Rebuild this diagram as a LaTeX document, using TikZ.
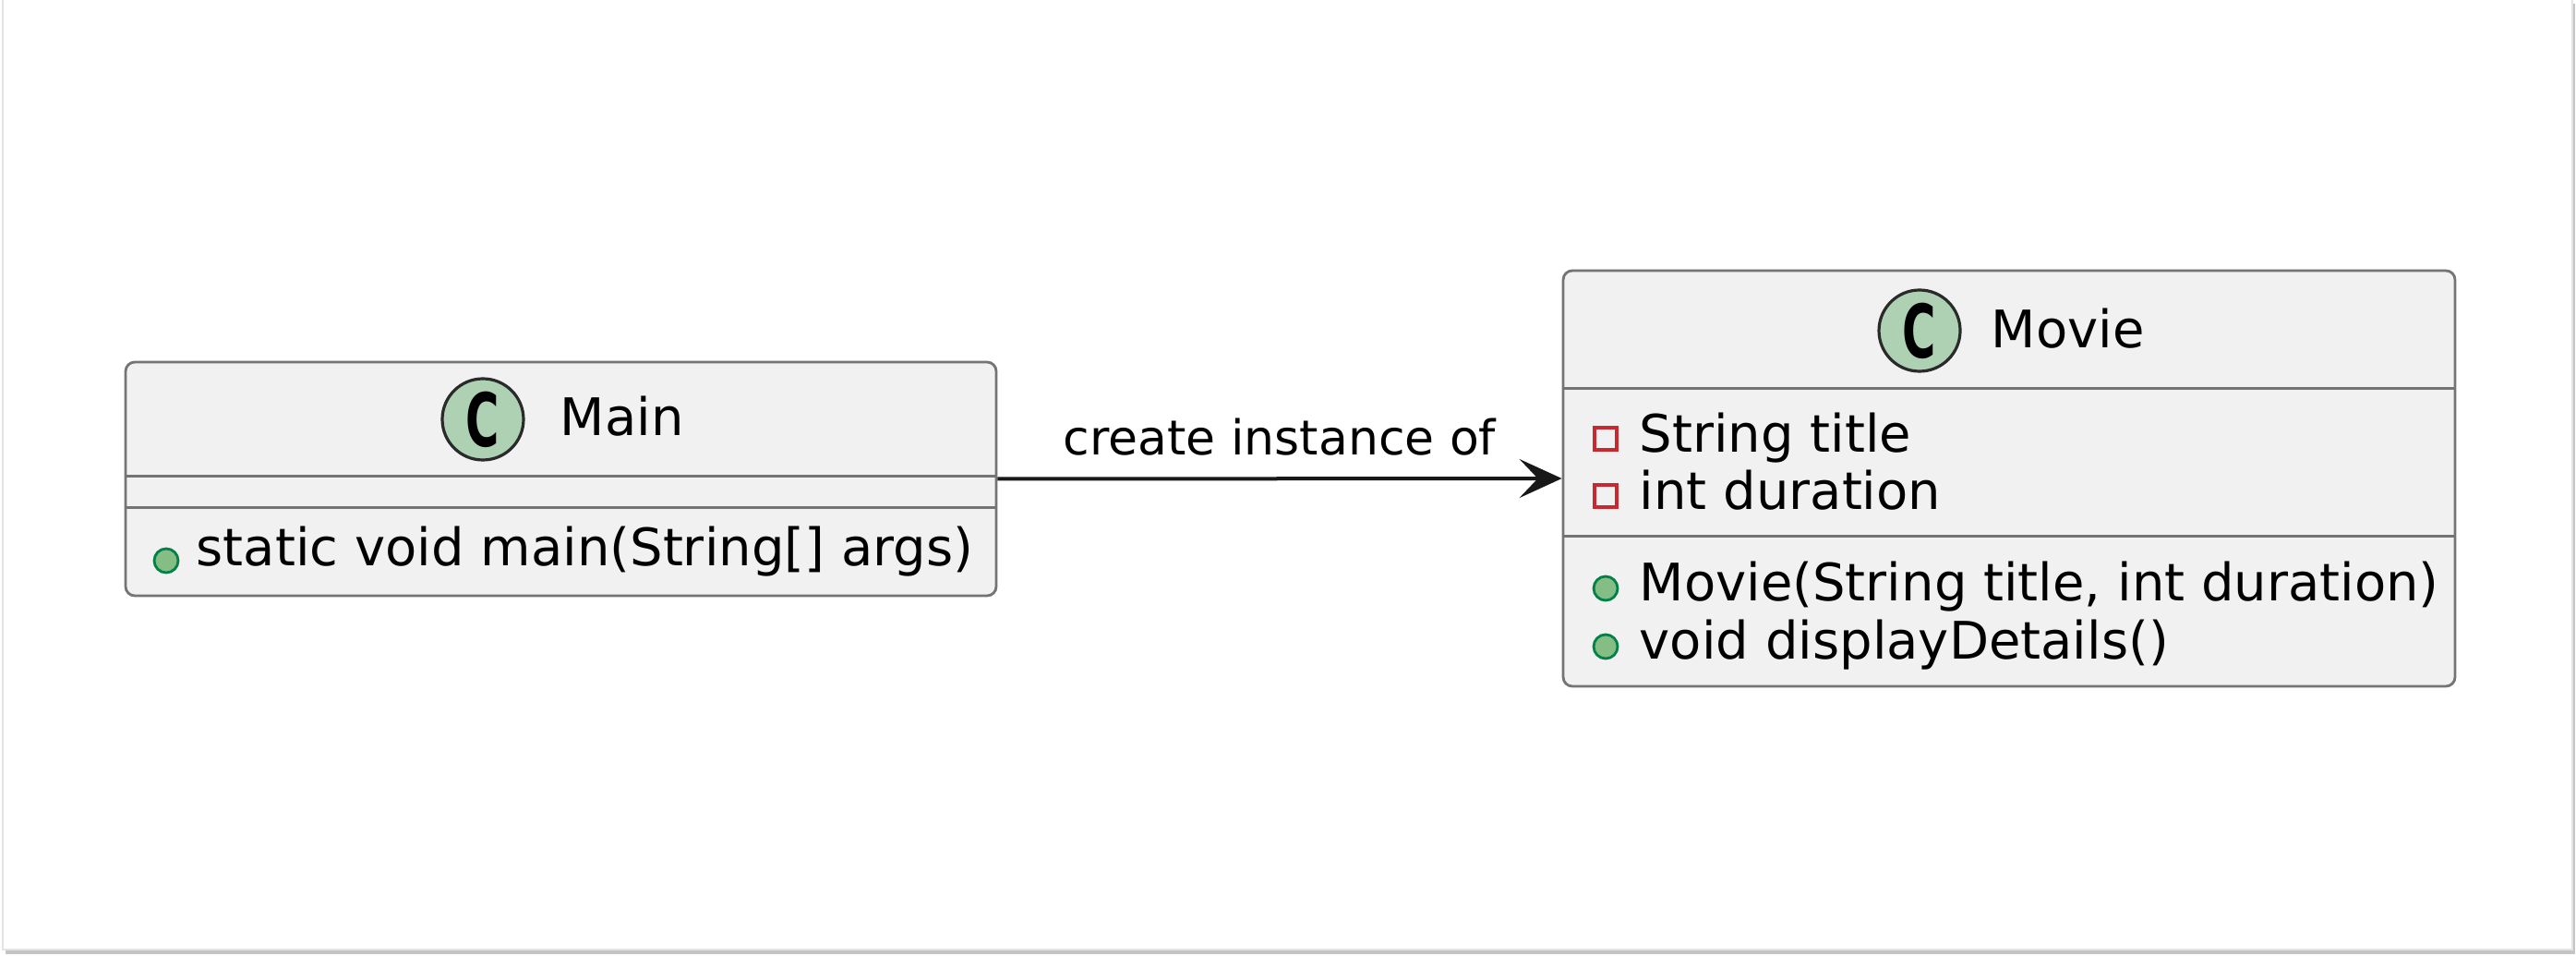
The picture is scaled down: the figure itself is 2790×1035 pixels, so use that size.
\documentclass[tikz,border=0pt]{standalone}
\usepackage{fontspec}
\setmainfont{DejaVu Sans}
\usetikzlibrary{arrows.meta}
\definecolor{boxfill}{HTML}{F1F1F1}
\definecolor{boxline}{HTML}{747474}
\definecolor{arrowline}{HTML}{181818}
\definecolor{spotfill}{HTML}{ADD1B2}
\definecolor{spotline}{HTML}{2A2A2A}
\definecolor{privred}{HTML}{C82930}
\definecolor{pubfill}{HTML}{84BE84}
\definecolor{publine}{HTML}{038048}
\definecolor{framegray}{HTML}{E4E4E4}
\definecolor{shadowgray}{HTML}{C4C4C4}
\begin{document}
\begin{tikzpicture}[x=0.25pt, y=-0.25pt,
  classbox/.style={draw=boxline, fill=boxfill, line width=0.7pt, rounded corners=2.5pt, inner sep=0pt},
  sepline/.style={draw=boxline, line width=0.7pt},
  spotC/.style={circle, draw=spotline, fill=spotfill, line width=0.8pt, minimum size=22pt, inner sep=0pt,
    font=\fontsize{20pt}{20pt}\selectfont\bfseries},
  member/.style={anchor=base west, inner sep=0pt, font=\fontsize{14pt}{16pt}\selectfont},
  classname/.style={member},
  priv/.style={draw=privred, line width=0.9pt, minimum size=6pt, inner sep=0pt},
  pub/.style={circle, draw=publine, fill=pubfill, line width=0.7pt, minimum size=6.5pt, inner sep=0pt},
  lbl/.style={anchor=base, inner sep=0pt, yshift=6.5pt, font=\fontsize{13pt}{15pt}\selectfont},
  rel/.style={draw=arrowline, line width=1pt, -{Stealth[length=11.5pt, width=10.5pt, inset=5pt]}}
]
  \useasboundingbox (0,0) rectangle (2790,1035);

  % frame
  \fill [color=shadowgray] (6,4) rectangle (2789,1033);
  \filldraw [fill=white, draw=framegray, line width=0.4pt] (3,-3) rectangle (2786,1028);

  % class Main
  \begin{scope}
    \node[classbox, minimum width=235.75pt, minimum height=63.25pt] (main) at (607.5,518.5) {};
    \draw[sepline] ([yshift=-31.25pt]main.north west) -- ([yshift=-31.25pt]main.north east);
    \draw[sepline] ([yshift=-39.75pt]main.north west) -- ([yshift=-39.75pt]main.north east);

    \node[spotC] (mainspot) at (523,454) {\scalebox{0.62}[1]{C}};
    \node[classname] (mainname) at (606,472) {Main};

    \node[pub] (mainop) at (180,607) {};
    \node[member] (mainoptext) at (212,613) {static void main(String[] args)};
  \end{scope}

  % class Movie
  \begin{scope}
    \node[classbox, minimum width=241.5pt, minimum height=112.5pt] (movie) at (2176,518) {};
    \draw[sepline] ([yshift=-32.25pt]movie.north west) -- ([yshift=-32.25pt]movie.north east);
    \draw[sepline] ([yshift=-72.25pt]movie.north west) -- ([yshift=-72.25pt]movie.north east);

    \node[spotC] (moviespot) at (2079,358) {\scalebox{0.62}[1]{C}};
    \node[classname] (moviename) at (2156,377) {Movie};

    \node[priv] (movieattra) at (1739,475) {};
    \node[member] (movieattratext) at (1775,490) {String title};
    \node[priv] (movieattrb) at (1739,537) {};
    \node[member] (movieattrbtext) at (1775,552) {int duration};

    \node[pub] (movieopa) at (1739,637) {};
    \node[member] (movieopatext) at (1775,650) {Movie(String title, int duration)};
    \node[pub] (movieopb) at (1739,700) {};
    \node[member] (movieopbtext) at (1775,713) {void displayDetails()};
  \end{scope}

  \draw[rel] (main.east) -- node[lbl] (rellabel) {create instance of} (movie.west);
\end{tikzpicture}
\end{document}
